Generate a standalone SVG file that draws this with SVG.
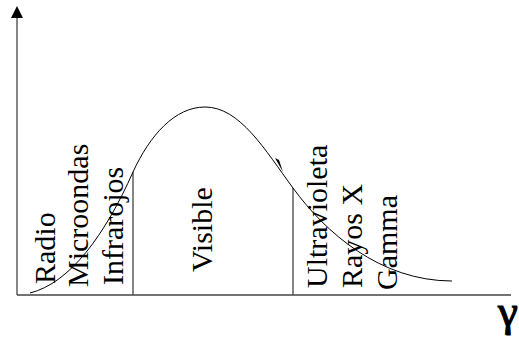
<svg xmlns="http://www.w3.org/2000/svg" width="519" height="343" viewBox="0 0 519 343">
<style>
.ax{stroke:#444;stroke-width:1.3;fill:none}
.cv{stroke:#000;stroke-width:1;fill:none}
.lb{font-family:"Liberation Serif","Times New Roman",serif;font-size:30px;fill:#000}
</style>
<rect width="519" height="343" fill="#fff"/>
<g id="connectors">
<line class="ax" x1="17" y1="295" x2="17" y2="16"/>
<polygon points="17,6 11,18 23,18" fill="#000"/>
<line class="ax" x1="17" y1="295" x2="511" y2="295"/>
<line class="ax" x1="133" y1="172" x2="133" y2="295"/>
<line class="ax" x1="293" y1="188" x2="293" y2="295"/>
<path class="cv" d="M30,293 C70,283 105,235 133,172 C150,135 175,107 205,107 C240,107 265,150 293,188 C325,232 380,281 452,281"/>
<polygon points="283,172 275,158 279,160" fill="#000"/>
</g>
<g id="radio"><text class="lb" transform="translate(55,284) rotate(-90)">Radio</text></g>
<g id="microondas"><text class="lb" transform="translate(88,287) rotate(-90)">Microondas</text></g>
<g id="infrarojos"><text class="lb" transform="translate(123,285) rotate(-90)">Infrarojos</text></g>
<g id="visible"><text class="lb" transform="translate(212,272) rotate(-90)">Visible</text></g>
<g id="ultravioleta"><text class="lb" transform="translate(327,288) rotate(-90)">Ultravioleta</text></g>
<g id="rayos"><text class="lb" transform="translate(362,288) rotate(-90)">Rayos X</text></g>
<g id="gamma"><text class="lb" transform="translate(397,290) rotate(-90)">Gamma</text></g>
<g id="gamma-symbol"><text class="lb" x="518" y="326" text-anchor="end" style="font-size:45px;stroke:#000;stroke-width:1.2">γ</text></g>
</svg>
